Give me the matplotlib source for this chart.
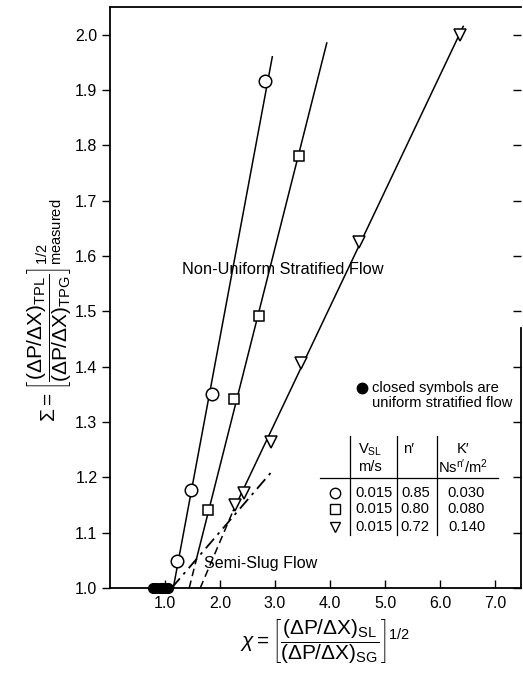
import numpy as np
import matplotlib
matplotlib.use("Agg")
import matplotlib.pyplot as plt

plt.rcParams['font.family'] = ['Liberation Sans', 'DejaVu Sans']
plt.rcParams['mathtext.fontset'] = 'custom'
plt.rcParams['mathtext.rm'] = 'Liberation Sans'
plt.rcParams['mathtext.it'] = 'Liberation Sans:italic'
plt.rcParams['mathtext.bf'] = 'Liberation Sans:bold'

# measured points (open symbols)
circ_x = [1.21, 1.47, 1.85, 2.82]
circ_y = [1.049, 1.177, 1.35, 1.916]
sq_x = [1.78, 2.26, 2.70, 3.43]
sq_y = [1.141, 1.341, 1.492, 1.781]
tri_x = [2.27, 2.44, 2.92, 3.48, 4.53, 6.36]
tri_y = [1.150, 1.172, 1.263, 1.406, 1.626, 2.0]
# closed symbols: uniform stratified flow
closed_x = [0.78, 0.84, 0.90, 0.95, 1.00, 1.05]
closed_y = [1.0, 1.0, 1.0, 1.0, 1.0, 1.0]

# fitted lines
circ_line_x, circ_line_y = [1.15, 2.95], [1.0, 1.96]
sq_line_x, sq_line_y = [1.56, 3.94], [1.048, 1.985]
sq_dash_x, sq_dash_y = [1.44, 1.56], [1.0, 1.048]
tri_line_x, tri_line_y = [2.24, 6.42], [1.14, 2.015]
tri_dash_x, tri_dash_y = [1.64, 2.24], [1.0, 1.14]
slug_x, slug_y = [1.12, 2.92], [1.0, 1.208]

# table contents
table_rows = [
    ['0.015', '0.85', '0.030'],
    ['0.015', '0.80', '0.080'],
    ['0.015', '0.72', '0.140'],
]
table_markers = ['o', 's', 'v']

xticks = [1, 2, 3, 4, 5, 6, 7]
yticks = np.round(np.arange(1.0, 2.01, 0.1), 1)

fig = plt.figure(figsize=(5.23, 6.82), dpi=100)
ax = fig.add_axes([110 / 523, 1 - 588 / 682, 411 / 523, 581 / 682])
ax.set_xlim(0, 7.47)
ax.set_ylim(1.0, 2.05)

lw = 1.1
ax.plot(circ_line_x, circ_line_y, color='black', lw=lw)
ax.plot(sq_line_x, sq_line_y, color='black', lw=lw)
ax.plot(sq_dash_x, sq_dash_y, color='black', lw=lw, ls=(0, (5, 3)))
ax.plot(tri_line_x, tri_line_y, color='black', lw=lw)
ax.plot(tri_dash_x, tri_dash_y, color='black', lw=lw, ls=(0, (5, 3)))
ax.plot(slug_x, slug_y, color='black', lw=1.3, ls=(0, (7, 3, 1.5, 3)))

mk = dict(mfc='white', mec='black', mew=1.1, ls='none', zorder=3)
ax.plot(circ_x, circ_y, marker='o', ms=9, **mk)
ax.plot(sq_x, sq_y, marker='s', ms=7.5, **mk)
ax.plot(tri_x, tri_y, marker='v', ms=9, **mk)
ax.plot(closed_x, closed_y, marker='o', ms=7, color='black', ls='none',
        clip_on=False, zorder=4)

# annotations
ax.text(1.30, 1.575, 'Non-Uniform Stratified Flow', fontsize=11.8, va='center')
ax.text(1.70, 1.045, 'Semi-Slug Flow', fontsize=11.6, va='center')
ax.plot([4.58], [1.361], marker='o', ms=7.5, color='black', ls='none')
ax.text(4.76, 1.361, 'closed symbols are', fontsize=10.6, va='center')
ax.text(4.76, 1.335, 'uniform stratified flow', fontsize=10.6, va='center')

# inset table
tfs = 10.6
ax.plot([3.82, 7.05], [1.198, 1.198], color='black', lw=0.9)
for vx in [4.36, 5.21, 5.94]:
    ax.plot([vx, vx], [1.096, 1.274], color='black', lw=0.9)
ax.text(4.73, 1.25, r'V$_{\mathrm{SL}}$', fontsize=tfs, ha='center', va='center')
ax.text(4.73, 1.219, 'm/s', fontsize=tfs, ha='center', va='center')
ax.text(5.42, 1.252, "n\u2032", fontsize=tfs, ha='center', va='center')
ax.text(6.42, 1.252, "K\u2032", fontsize=tfs, ha='center', va='center')
ax.text(6.42, 1.219, r"Ns$^{\mathrm{n}\prime}$/m$^{2}$", fontsize=tfs,
        ha='center', va='center')
row_y = [1.171, 1.142, 1.111]
col_x = [4.79, 5.55, 6.48]
for ry, row, m in zip(row_y, table_rows, table_markers):
    ax.plot([4.09], [ry], marker=m, ms=7.5 if m != 's' else 6.5, mfc='white',
            mec='black', mew=1.0, ls='none')
    for cx, val in zip(col_x, row):
        ax.text(cx, ry, val, fontsize=tfs, ha='center', va='center')

# axes styling
ax.set_xticks(xticks)
ax.set_xticklabels(['%.1f' % v for v in xticks], fontsize=11.5)
ax.set_yticks(yticks)
ax.set_yticklabels(['%.1f' % v for v in yticks], fontsize=11.5)
ax.tick_params(axis='x', direction='in', length=6, width=1, pad=6)
ax.tick_params(axis='y', direction='out', length=6, width=1, pad=3,
               right=True)
for s in ax.spines.values():
    s.set_linewidth(1.3)
ax.spines['right'].set_bounds(1.0, 1.47)
# right ticks point inward
for t in ax.yaxis.get_major_ticks():
    t.tick2line.set_marker(matplotlib.lines.TICKLEFT)

ax.set_xlabel(r'$\chi = \left[\dfrac{(\Delta \mathrm{P}/\Delta \mathrm{X})_{\mathrm{SL}}}'
              r'{(\Delta \mathrm{P}/\Delta \mathrm{X})_{\mathrm{SG}}}\right]^{1/2}$',
              fontsize=15)
ax.xaxis.set_label_coords(0.523, -0.05)
ax.set_ylabel(r'$\Sigma = \left[\dfrac{(\Delta \mathrm{P}/\Delta \mathrm{X})_{\mathrm{TPL}}}'
              r'{(\Delta \mathrm{P}/\Delta \mathrm{X})_{\mathrm{TPG}}}\right]^{1/2}_{\mathrm{measured}}$',
              fontsize=15)
ax.yaxis.set_label_coords(-0.088, 0.478)

fig.savefig('out.png', dpi=100)
